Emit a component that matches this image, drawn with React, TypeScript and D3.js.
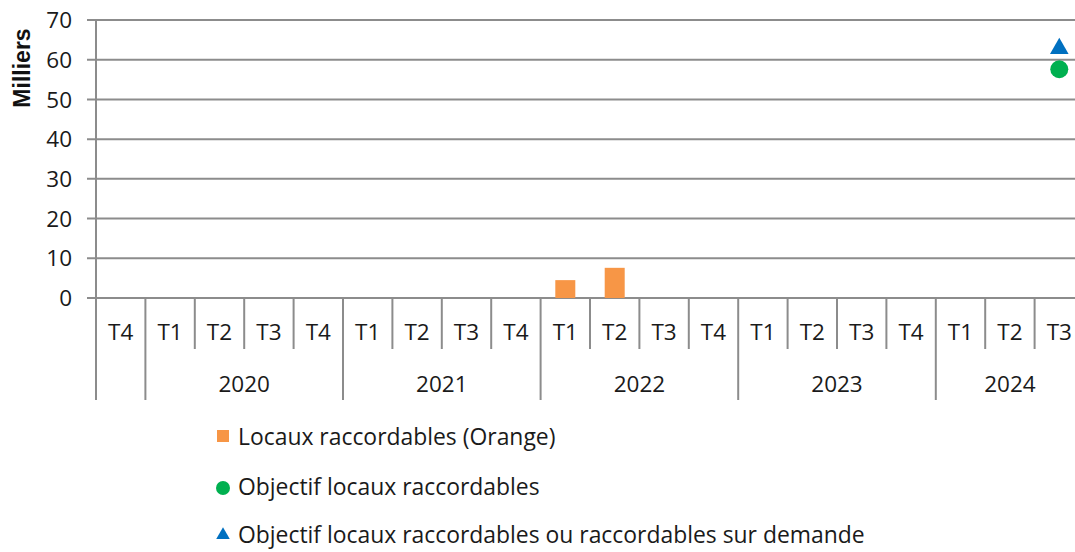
import React from "react";
import * as d3 from "d3";

const quarters = ["T4","T1","T2","T3","T4","T1","T2","T3","T4","T1","T2","T3","T4","T1","T2","T3","T4","T1","T2","T3"];
const years = ["", "2020", "2021", "2022", "2023", "2024"];
const yearSpans = [1, 4, 4, 4, 4, 3];
const barValues: (number | null)[] = [null,null,null,null,null,null,null,null,null,4.5,7.6,null,null,null,null,null,null,null,null,null];
const objectifValues: (number | null)[] = [null,null,null,null,null,null,null,null,null,null,null,null,null,null,null,null,null,null,null,57.6];
const objectifDemandeValues: (number | null)[] = [null,null,null,null,null,null,null,null,null,null,null,null,null,null,null,null,null,null,null,62.8];
const yTicks = [0, 10, 20, 30, 40, 50, 60, 70];
const legendLabels = [
  "Locaux raccordables (Orange)",
  "Objectif locaux raccordables",
  "Objectif locaux raccordables ou raccordables sur demande",
];

const W = 1075, H = 552;
const left = 96, bandW = 49.4;
const FONT = "'Open Sans', sans-serif";
const FS = 22.5;
const LFS = 22.9;
const GRID = "#8c8c8c";
const TXT = "#1a1a1a";
const ORANGE = "#F79646", GREEN = "#00B050", BLUE = "#0070C0";

export default function App() {
  const idx = quarters.map((_, i) => i);
  const x = d3.scaleBand<number>().domain(idx).range([left, left + bandW * quarters.length]).padding(0);
  const y = d3.scaleLinear().domain([0, 70]).range([298, 20]);
  const bw = x.bandwidth();
  const cx = (i: number) => (x(i) as number) + bw / 2;

  const boundaries: number[] = [];
  let acc = 0;
  yearSpans.forEach((s) => { boundaries.push(acc); acc += s; });
  const yearCenters = yearSpans.map((s, k) => (x(boundaries[k]) as number) + (s * bw) / 2);

  const tri = d3.symbol().type(d3.symbolTriangle).size(150)();

  return (
    <svg width={W} height={H} style={{ position: "absolute", left: 0, top: 0, background: "#fff" }} fontFamily={FONT}>
      {yTicks.map((t) => (
        <g key={t}>
          <line x1={87} x2={W} y1={y(t)} y2={y(t)} stroke={GRID} strokeWidth={2} />
          <text x={72} y={y(t)} dy="0.36em" textAnchor="end" fontSize={FS} fill={TXT}>{t}</text>
        </g>
      ))}
      <line x1={left} x2={left} y1={y(70)} y2={400} stroke={GRID} strokeWidth={2} />
      <text transform={`translate(22,68) rotate(-90)`} dy="0.35em" textAnchor="middle" fontSize={23} fontWeight="bold" fontFamily="'Liberation Sans', Arial, sans-serif" fill="#111">Milliers</text>

      {idx.slice(1).map((i) => {
        const isYear = boundaries.includes(i);
        return <line key={i} x1={x(i)} x2={x(i)} y1={298} y2={isYear ? 400 : 349} stroke={GRID} strokeWidth={2} />;
      })}
      {quarters.map((q, i) => (
        <text key={i} x={cx(i)} y={332} dy="0.36em" textAnchor="middle" fontSize={FS} fill={TXT}>{q}</text>
      ))}
      {years.map((yr, k) => (
        <text key={k} x={yearCenters[k]} y={384} dy="0.36em" textAnchor="middle" fontSize={FS} fill={TXT}>{yr}</text>
      ))}

      {barValues.map((v, i) => v == null ? null : (
        <rect key={i} x={cx(i) - 10} width={20} y={y(v)} height={y(0) - y(v)} fill={ORANGE} />
      ))}
      {objectifValues.map((v, i) => v == null ? null : (
        <circle key={i} cx={cx(i)} cy={y(v)} r={9} fill={GREEN} />
      ))}
      {objectifDemandeValues.map((v, i) => v == null ? null : (
        <path key={i} d={tri as string} transform={`translate(${cx(i)},${y(v)})`} fill={BLUE} />
      ))}

      <rect x={217} y={430} width={12} height={12} fill={ORANGE} />
      <text x={238} y={437} dy="0.36em" fontSize={LFS} fill={TXT}>{legendLabels[0]}</text>
      <circle cx={223} cy={488} r={7} fill={GREEN} />
      <text x={238} y={487} dy="0.36em" fontSize={LFS} fill={TXT}>{legendLabels[1]}</text>
      <path d={d3.symbol().type(d3.symbolTriangle).size(80)() as string} transform="translate(223,535)" fill={BLUE} />
      <text x={238} y={535} dy="0.36em" fontSize={LFS} fill={TXT}>{legendLabels[2]}</text>
    </svg>
  );
}
